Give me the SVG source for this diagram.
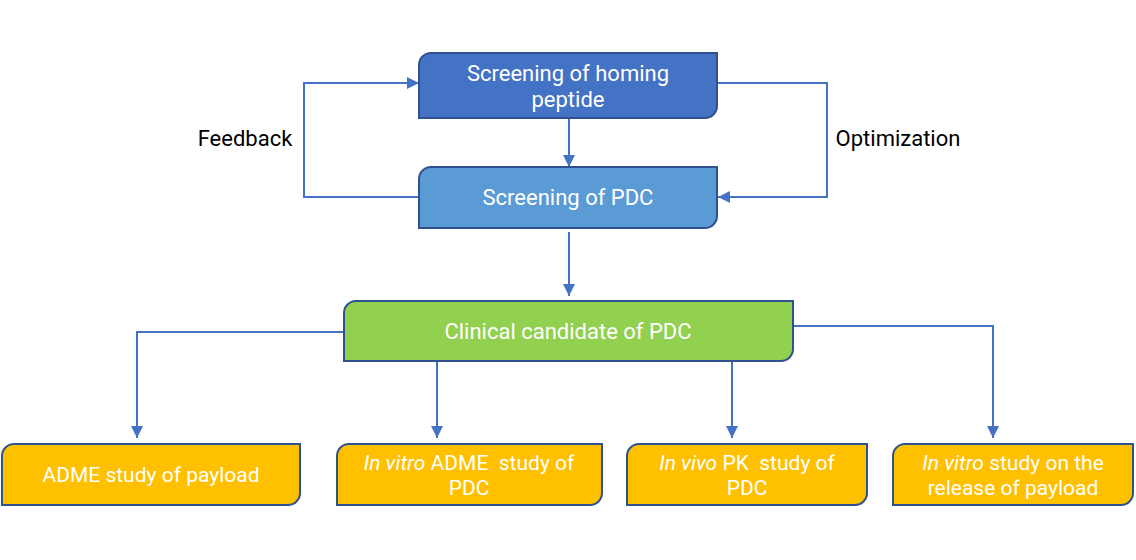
<svg xmlns="http://www.w3.org/2000/svg" width="1136" height="560" viewBox="0 0 1136 560">
<defs>
<marker id="ah" viewBox="0 0 10 10" refX="10" refY="5" markerWidth="12" markerHeight="12" markerUnits="userSpaceOnUse" orient="auto">
<path d="M0,0 L10,5 L0,10 Z" fill="#4472C4"/>
</marker>
<style>
.box{stroke:#2F528F;stroke-width:2}
.b1{fill:#4472C4}.b2{fill:#5B9BD5}.b3{fill:#92D050}.b4{fill:#FFC000}
.t{font-family:Roboto,"Liberation Sans",sans-serif;font-size:22px;fill:#fff;text-anchor:middle}
.s{font-size:21px}
.lbl{font-family:Roboto,"Liberation Sans",sans-serif;font-size:22px;fill:#000;text-anchor:middle}
.c{fill:none;stroke:#4472C4;stroke-width:2}
.c path{marker-end:url(#ah)}
</style>
</defs>
<rect width="1136" height="560" fill="#fff"/>
<g id="connectors" class="c">
<path d="M418,197 H304 V83 H419"/>
<path d="M717,83 H827 V197 H718"/>
<path d="M569,118 V167"/>
<path d="M569,232 V296"/>
<path d="M344,332 H137 V438"/>
<path d="M437,361 V438"/>
<path d="M732,361 V438"/>
<path d="M793,326 H993 V438"/>
</g>
<g id="homing">
<path class="box b1" d="M419,65 A12,12 0 0 1 431,53 H717 V106 A12,12 0 0 1 705,118 H419 Z"/>
<text class="t" x="568" y="81">Screening of homing</text>
<text class="t" x="568" y="107">peptide</text>
</g>
<g id="pdc">
<path class="box b2" d="M419,179 A12,12 0 0 1 431,167 H717 V216 A12,12 0 0 1 705,228 H419 Z"/>
<text class="t" x="568" y="205">Screening of PDC</text>
</g>
<g id="candidate">
<path class="box b3" d="M344,313 A12,12 0 0 1 356,301 H793 V349 A12,12 0 0 1 781,361 H344 Z"/>
<text class="t" x="568" y="339">Clinical candidate of PDC</text>
</g>
<g id="adme">
<path class="box b4" d="M2,456 A12,12 0 0 1 14,444 H300 V493 A12,12 0 0 1 288,505 H2 Z"/>
<text class="t s" x="151" y="482">ADME study of payload</text>
</g>
<g id="invitro">
<path class="box b4" d="M337,456 A12,12 0 0 1 349,444 H602 V493 A12,12 0 0 1 590,505 H337 Z"/>
<text class="t s" x="469" y="470" xml:space="preserve"><tspan font-style="italic">In vitro</tspan> ADME  study of</text>
<text class="t s" x="469" y="495">PDC</text>
</g>
<g id="invivo">
<path class="box b4" d="M627,456 A12,12 0 0 1 639,444 H867 V493 A12,12 0 0 1 855,505 H627 Z"/>
<text class="t s" x="747" y="470" xml:space="preserve"><tspan font-style="italic">In vivo</tspan> PK  study of</text>
<text class="t s" x="747" y="495">PDC</text>
</g>
<g id="release">
<path class="box b4" d="M893,456 A12,12 0 0 1 905,444 H1133 V493 A12,12 0 0 1 1121,505 H893 Z"/>
<text class="t s" x="1013" y="470"><tspan font-style="italic">In vitro</tspan> study on the</text>
<text class="t s" x="1013" y="495">release of payload</text>
</g>
<text class="lbl" x="245" y="146">Feedback</text>
<text class="lbl" x="898" y="146">Optimization</text>
</svg>
